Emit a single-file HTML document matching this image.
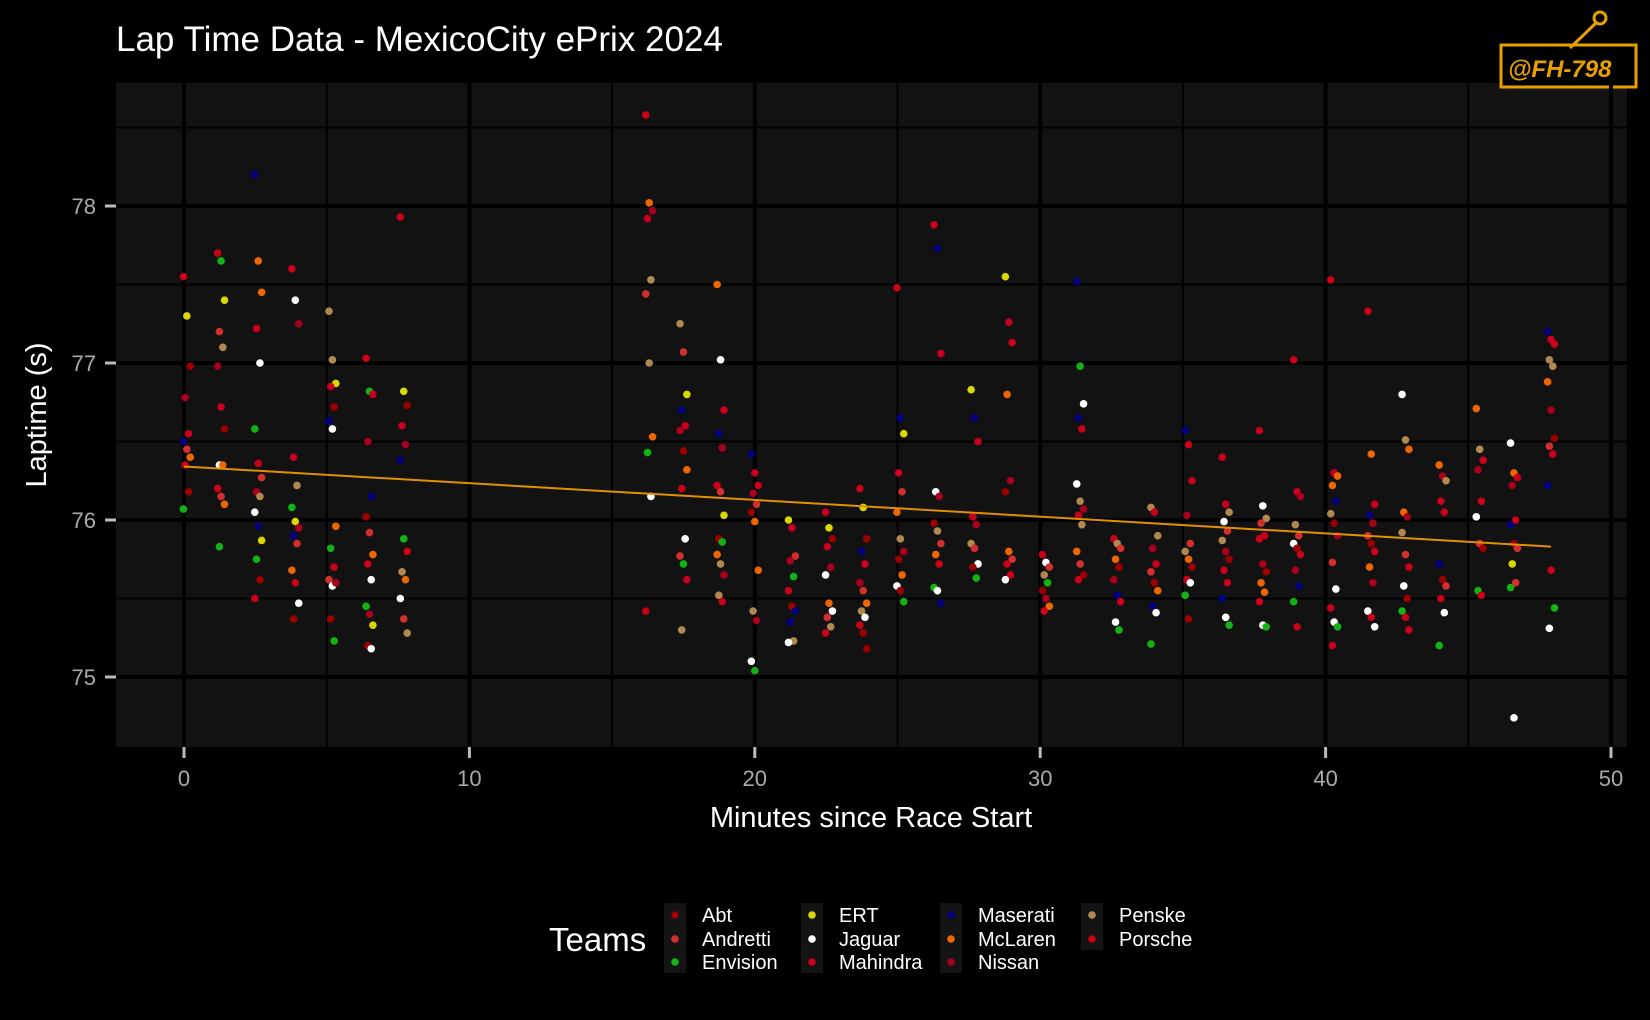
<!DOCTYPE html>
<html><head><meta charset="utf-8"><style>
html,body{margin:0;padding:0;background:#000;}
svg{display:block;font-family:"Liberation Sans",sans-serif;}
</style></head><body>
<svg id="chart" width="1650" height="1020" viewBox="0 0 1650 1020">
<rect width="1650" height="1020" fill="#000"/>
<text x="116" y="51" fill="#fff" font-size="35">Lap Time Data - MexicoCity ePrix 2024</text>
<rect x="116" y="83" width="1511" height="664" fill="#121212"/>
<g>
<rect x="1501" y="45" width="135" height="42" fill="#000" stroke="#e8a000" stroke-width="3"/>
<line x1="1570" y1="48" x2="1597" y2="22" stroke="#e8a000" stroke-width="3"/>
<circle cx="1600" cy="18" r="6" fill="none" stroke="#e8a000" stroke-width="3"/>
<text x="1508" y="77" fill="#e8a000" font-size="24" font-style="italic" font-weight="bold">@FH-798</text>
</g>
<g id="grid"></g>
<g id="axes"></g>
<g id="points"></g>
<g id="trend"></g>
<text x="871" y="827" fill="#fff" font-size="29" text-anchor="middle">Minutes since Race Start</text>
<text transform="translate(46,415) rotate(-90)" fill="#fff" font-size="29" text-anchor="middle">Laptime (s)</text>
<text x="549" y="951" fill="#fff" font-size="33">Teams</text>
<g id="legend"></g>
</svg>
<script>
const teamNames = ["Abt","Andretti","Envision","ERT","Jaguar","Mahindra","Maserati","McLaren","Nissan","Penske","Porsche"];
const teamColors = ["#9a0000","#d32f2f","#12b312","#d8d800","#ffffff","#c8001e","#000080","#ee6600","#a8001c","#b08850","#c80018"];
const xTicks = [0,10,20,30,40,50];
const yTicks = [75,76,77,78];
// lap cluster minutes
const lapMinutes = [0.1,1.3,2.6,3.9,5.2,6.5,7.7,16.3,17.5,18.8,20,21.3,22.6,23.8,25.1,26.4,27.7,28.9,30.2,31.4,32.7,34,35.2,36.5,37.8,39,40.3,41.6,42.8,44.1,45.4,46.6,47.9];
// lap times per cluster
const lapTimes = [
[77.55,77.3,76.98,76.78,76.55,76.5,76.45,76.4,76.35,76.18,76.07],
[77.7,77.65,77.4,77.2,77.1,76.98,76.72,76.58,76.35,76.35,76.2,76.15,76.1,75.83],
[78.2,77.65,77.45,77.22,77.0,76.58,76.36,76.27,76.18,76.15,76.05,75.96,75.87,75.75,75.62,75.5],
[77.6,77.4,77.25,76.4,76.22,76.08,75.99,75.95,75.9,75.85,75.68,75.6,75.47,75.37],
[77.33,77.02,76.87,76.85,76.72,76.63,76.58,75.96,75.82,75.7,75.62,75.58,75.6,75.37,75.23],
[77.03,76.82,76.8,76.5,76.15,76.02,75.92,75.78,75.72,75.62,75.45,75.4,75.33,75.2,75.18],
[77.93,76.82,76.73,76.6,76.48,76.38,75.88,75.8,75.67,75.62,75.5,75.37,75.28],
[78.58,78.02,77.97,77.92,77.53,77.44,77.0,76.53,76.43,76.15,75.42],
[77.25,77.07,76.8,76.7,76.6,76.57,76.44,76.32,76.2,75.88,75.77,75.72,75.62,75.3],
[77.5,77.02,76.7,76.55,76.46,76.22,76.18,76.03,75.88,75.86,75.78,75.72,75.65,75.52,75.48],
[76.42,76.3,76.22,76.17,76.1,76.05,75.99,75.68,75.42,75.36,75.1,75.04],
[76.0,75.95,75.77,75.74,75.64,75.55,75.45,75.42,75.35,75.23,75.22],
[76.05,75.95,75.88,75.83,75.7,75.65,75.47,75.42,75.38,75.32,75.28],
[76.2,76.08,75.88,75.8,75.72,75.6,75.55,75.47,75.42,75.38,75.33,75.28,75.18],
[77.48,76.65,76.55,76.3,76.18,76.05,75.88,75.8,75.75,75.65,75.58,75.55,75.48],
[77.88,77.73,77.06,76.18,76.15,75.98,75.93,75.85,75.78,75.72,75.57,75.55,75.47],
[76.83,76.65,76.5,76.02,75.97,75.85,75.82,75.72,75.7,75.63],
[77.55,77.26,77.13,76.8,76.25,76.18,75.8,75.75,75.72,75.65,75.62],
[75.78,75.73,75.7,75.65,75.6,75.55,75.5,75.45,75.42],
[77.52,76.98,76.74,76.65,76.58,76.23,76.12,76.07,76.03,75.97,75.8,75.72,75.65,75.62],
[75.88,75.85,75.82,75.75,75.7,75.62,75.52,75.48,75.35,75.3],
[76.08,76.05,75.9,75.82,75.72,75.67,75.6,75.55,75.45,75.41,75.21],
[76.57,76.48,76.25,76.03,75.85,75.8,75.75,75.7,75.62,75.6,75.52,75.37],
[76.4,76.1,76.05,75.99,75.93,75.87,75.8,75.75,75.68,75.6,75.5,75.38,75.33],
[76.57,76.09,76.01,75.98,75.9,75.88,75.72,75.67,75.6,75.54,75.48,75.33,75.32],
[77.02,76.18,76.15,75.97,75.9,75.85,75.82,75.78,75.68,75.58,75.48,75.32],
[77.53,76.3,76.28,76.22,76.12,76.04,75.98,75.9,75.73,75.56,75.44,75.35,75.32,75.2],
[77.33,76.42,76.1,76.03,75.98,75.9,75.85,75.8,75.7,75.6,75.42,75.38,75.32],
[76.8,76.51,76.45,76.05,76.02,75.92,75.78,75.7,75.58,75.5,75.42,75.38,75.3],
[76.35,76.28,76.25,76.12,76.05,75.72,75.62,75.58,75.5,75.41,75.2],
[76.71,76.45,76.38,76.32,76.12,76.02,75.85,75.82,75.55,75.52],
[76.49,76.3,76.27,76.22,76.0,75.97,75.85,75.82,75.72,75.6,75.57,74.74],
[77.2,77.15,77.12,77.02,76.98,76.88,76.7,76.52,76.47,76.42,76.22,75.68,75.44,75.31]
];
// team codes per point: a Abt, d Andretti, v Envision, e ERT, j Jaguar, h Mahindra, m Maserati, c McLaren, n Nissan, p Penske, r Porsche
const lapTeams = [
"reanhmdcrav","rvedpnhajcrdcv","mccrjvhdnpjmevar","rjnhpvenmdcrja","ppehamjcvrdjnav","rvhnmadcrjvneaj","reahnmvrpcjdp",
"rcnhpdpcvjr","pdemhnacrjdvhp","cjhmnrdeavcpnpr","mhrndaocpnjv","ehdnvrammpj","reahnjcjdpr","reamhndcpjraa",
"rmehdcpnacjav","rmhjnapdcrvjm","emrhnpdjav","ehrcnacdhrj","rjdpvanch","mvjmrjpnhpcdar","rpdcanmhjv","phpnrdacmjv",
"mrhndpcarjva","rhpjdpnarhmjv","rjpdhrnacchjv","rhnpdjarnmvr","rhccmpandjrjvh","rchmndarcnjrj","jpccnpdrjavhr",
"cnphrmadrjv","cphnrjdavr","jchnrmadedvj","mrhppcnadrmhvj"
];
const codeMap = {a:0,d:1,v:2,e:3,j:4,h:5,m:6,c:7,n:8,p:9,r:10,o:7};

const X0=184, X1=1611, Y75=677, Y78=206;
const xScale = v => X0 + (X1-X0)*v/50;
function ys(v){ return Y75 - (Y75-Y78)*(v-75)/3; }
const NS="http://www.w3.org/2000/svg";
function mk(tag, attrs, parent){ const e=document.createElementNS(NS,tag); for(const k in attrs) e.setAttribute(k,attrs[k]); parent.appendChild(e); return e; }

const grid=document.getElementById('grid');
for(let v=74.5; v<=78.5; v+=0.5){
  const y=ys(v); if(y<83||y>747) continue;
  const major = Math.abs(v-Math.round(v))<1e-6;
  const l=mk('line',{x1:116,x2:1627,y1:y,y2:y,stroke:'#000','stroke-width':major?4:2},grid);
  
  
}
for(let v=0; v<=50; v+=5){
  const x=xScale(v);
  const major = v%10===0;
  const l=mk('line',{x1:x,x2:x,y1:83,y2:747,stroke:'#000','stroke-width':major?4:2},grid);
  
  
}
const axes=document.getElementById('axes');
xTicks.forEach(v=>{
  const x=xScale(v);
  mk('line',{x1:x,x2:x,y1:747,y2:758,stroke:'#bbb','stroke-width':3},axes);
  const t=mk('text',{x:x,y:786,fill:'#aaa','font-size':22,'text-anchor':'middle'},axes);
  t.textContent=v;
  
  
});
yTicks.forEach(v=>{
  const y=ys(v);
  mk('line',{x1:105,x2:116,y1:y,y2:y,stroke:'#bbb','stroke-width':3},axes);
  const t=mk('text',{x:96,y:y+8,fill:'#aaa','font-size':22,'text-anchor':'end'},axes);
  t.textContent=v;
  
  
});

const pts=document.getElementById('points');
let sx=0,sy=0,sxx=0,sxy=0,n=0;
lapMinutes.forEach((m,i)=>{
  const times=lapTimes[i]||[]; const codes=lapTeams[i]||"";
  times.forEach((t,j)=>{
    const team=codeMap[codes[j]] ?? 10;
    const jit=((j*7)%5-2)*0.06;
    const c=mk('circle',{cx:xScale(m+jit),cy:ys(t),r:3.8,fill:teamColors[team]},pts);
    
    
    sx+=m; sy+=t; sxx+=m*m; sxy+=m*t; n++;
  });
});
const slope=(n*sxy-sx*sy)/(n*sxx-sx*sx), icpt=(sy-slope*sx)/n;
const tl=mk('line',{x1:xScale(0),y1:ys(icpt),x2:xScale(47.9),y2:ys(icpt+slope*47.9),stroke:'#e09000','stroke-width':2},document.getElementById('trend'));



const lg=document.getElementById('legend');
const colX=[664,801,940,1081], rowY=[915,939,962];
teamNames.forEach((name,i)=>{
  const col=Math.floor(i/3), row=i%3;
  if(row===0){
    const rows=Math.min(3,teamNames.length-col*3);
    const b=mk('rect',{x:colX[col],y:903,width:22,height:rows===3?70:47,fill:'#141414'},lg);
    
    
  }
  const g=mk('g',{},lg);
  
  
  mk('circle',{cx:colX[col]+11,cy:rowY[row],r:3.8,fill:teamColors[i]},g);
  const t=mk('text',{x:colX[col]+38,y:rowY[row]+7,fill:'#fff','font-size':20},g);
  t.textContent=name;
});
</script>
</body></html>
